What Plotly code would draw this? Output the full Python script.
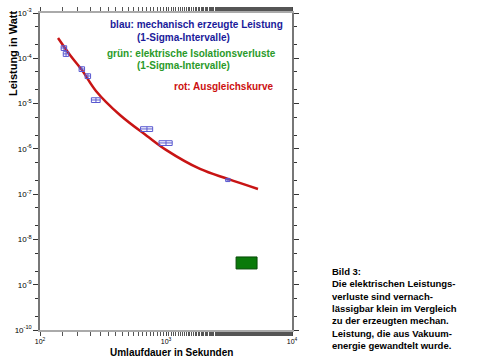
import plotly.graph_objects as go

# --- data ---
period_blue = [155, 161, 215, 240, 278, 706, 1000, 3100]
power_blue = [1.69e-4, 1.25e-4, 5.8e-5, 4.06e-5, 1.2e-5, 2.75e-6, 1.35e-6, 2.06e-7]
xerr_frac = [0.05, 0.05, 0.05, 0.05, 0.08, 0.11, 0.12, 0.04]
yerr_frac = [0.12, 0.12, 0.12, 0.12, 0.12, 0.12, 0.12, 0.08]

period_green = [3600, 5280]
power_green = [2.23e-9, 4.1e-9]

period_fit = [139, 173, 215, 278, 431, 706, 1000, 1862, 3100, 5370]
power_fit = [2.8e-4, 1.18e-4, 5.5e-5, 1.9e-5, 5.6e-6, 1.93e-6, 9.5e-7, 3.6e-7, 2.17e-7, 1.30e-7]

x_tick_vals = [1e2, 1e3, 1e4]
x_tick_text = ["10<sup>2</sup>", "10<sup>3</sup>", "10<sup>4</sup>"]
y_tick_vals = [1e-10, 1e-9, 1e-8, 1e-7, 1e-6, 1e-5, 1e-4, 1e-3]
y_tick_text = ["10<sup>-10</sup>", "10<sup>-9</sup>", "10<sup>-8</sup>", "10<sup>-7</sup>",
               "10<sup>-6</sup>", "10<sup>-5</sup>", "10<sup>-4</sup>", "10<sup>-3</sup>"]

legend_lines = [
    ("blau: mechanisch erzeugte Leistung", "#1a1a9a"),
    ("(1-Sigma-Intervalle)", "#1a1a9a"),
    ("grün: elektrische Isolationsverluste", "#2a9a2a"),
    ("(1-Sigma-Intervalle)", "#2a9a2a"),
    ("rot: Ausgleichskurve", "#cc1010"),
]
side_text = ["Bild 3:", "Die elektrischen Leistungs-", "verluste sind vernach-",
             "lässigbar klein im Vergleich", "zu der erzeugten mechan.",
             "Leistung, die aus Vakuum-", "energie gewandtelt wurde."]

fig = go.Figure()

# fit curve
fig.add_trace(go.Scatter(x=period_fit, y=power_fit, mode="lines",
                         line=dict(color="#c81414", width=2.5, shape="spline", smoothing=1.0),
                         hoverinfo="skip"))

# blue error boxes with cross
for xv, yv, ex, ey in zip(period_blue, power_blue, xerr_frac, yerr_frac):
    x0, x1 = xv * (1 - ex), xv * (1 + ex)
    y0, y1 = yv * (1 - ey), yv * (1 + ey)
    bx = [x0, x1, x1, x0, x0, None, x0, x1, None, xv, xv]
    by = [y0, y0, y1, y1, y0, None, yv, yv, None, y0, y1]
    fig.add_trace(go.Scatter(x=bx, y=by, mode="lines",
                             line=dict(color="#5858d0", width=1), hoverinfo="skip"))

# green box
gx0, gx1 = period_green
gy0, gy1 = power_green
fig.add_trace(go.Scatter(x=[gx0, gx1, gx1, gx0, gx0], y=[gy0, gy0, gy1, gy1, gy0],
                         mode="lines", fill="toself", fillcolor="#0a7a0a",
                         line=dict(color="#064a06", width=1), hoverinfo="skip"))

fig.update_layout(
    width=480, height=360, autosize=False,
    margin=dict(l=40, r=188, t=13, b=30),
    paper_bgcolor="white", plot_bgcolor="white",
    showlegend=False,
    font=dict(family="Liberation Sans, Arial, sans-serif", color="black"),
)

fig.update_xaxes(type="log", range=[2, 4], tickvals=x_tick_vals, ticktext=x_tick_text,
                 automargin=False,
                 ticks="outside", ticklen=4, tickcolor="#444", showgrid=False, zeroline=False,
                 showline=True, linecolor="#aaaaaa", linewidth=2, mirror="ticks",
                 tickfont=dict(size=7),
                 minor=dict(ticks="outside", ticklen=4, tickcolor="#555", showgrid=False))
fig.update_yaxes(type="log", range=[-10, -3], tickvals=y_tick_vals, ticktext=y_tick_text,
                 automargin=False,
                 ticks="outside", ticklen=5, tickcolor="#333", showgrid=False, zeroline=False,
                 showline=True, linecolor="#777777", linewidth=1.5, mirror="ticks",
                 tickfont=dict(size=8),
                 minor=dict(ticks="outside", ticklen=3, tickcolor="#333", showgrid=False))

# axis titles
fig.add_annotation(text="<b>Umlaufdauer in Sekunden</b>", xref="paper", yref="paper",
                   x=(171 - 40) / 252, y=-(352 - 330) / 317, xanchor="center", yanchor="middle",
                   showarrow=False, font=dict(size=10, color="black"))
fig.add_annotation(text="<b>Leistung in Watt</b>", xref="paper", yref="paper",
                   x=-(40 - 13) / 252, y=1 - (54 - 13) / 317, xanchor="center", yanchor="middle",
                   textangle=-90, showarrow=False, font=dict(size=11, color="black"))

# in-plot legend text
leg_pos = [(285, 25, "right"), (135, 38, "left"), (278, 53, "right"),
           (135, 66, "left"), (276, 86, "right")]
for (txt, col), (px, py, anc) in zip(legend_lines, leg_pos):
    fig.add_annotation(text="<b>" + txt + "</b>", xref="paper", yref="paper",
                       x=(px - 40) / 252, y=1 - (py - 13) / 317, xanchor=anc, yanchor="middle",
                       showarrow=False, font=dict(size=10, color=col))

# side text block
fig.add_annotation(text="<br>".join("<b>" + s + "</b>" for s in side_text),
                   xref="paper", yref="paper", x=(330 - 40) / 252, y=1 - (264 - 13) / 317,
                   xanchor="left", yanchor="top", align="left", showarrow=False,
                   font=dict(size=9.5, color="black"))

fig.write_html("out.html", config={"displayModeBar": False},
               post_script="document.body.style.margin='0';")
